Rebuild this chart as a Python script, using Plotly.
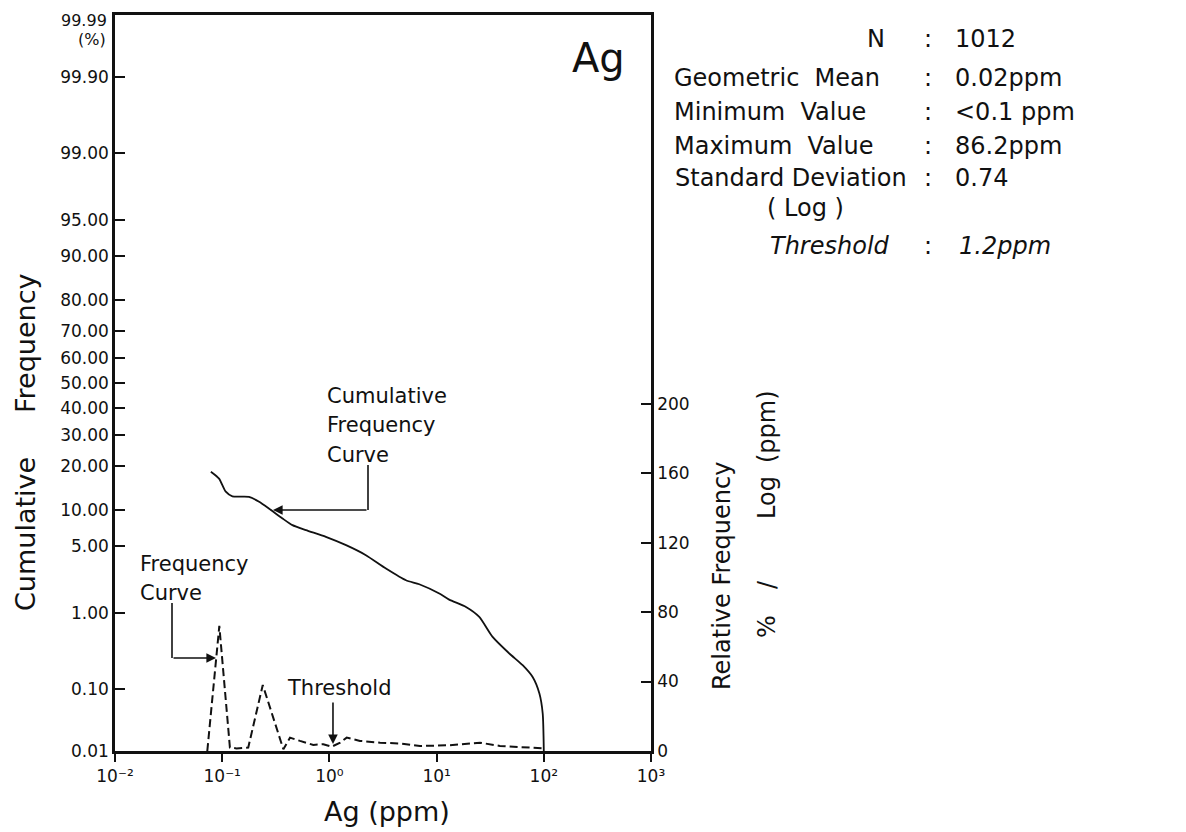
import math
from statistics import NormalDist
import plotly.graph_objects as go

# ---------------- data ----------------
cum_x = [0.0784, 0.0935, 0.108, 0.1245, 0.178, 0.221, 0.274, 0.365, 0.452, 0.604,
         0.927, 1.43, 2.19, 3.37, 5.18, 6.89, 10.6, 13.1, 18.8, 25.0, 33.3, 47.7,
         63.5, 78.7, 91.0, 97.7, 100.0]
cum_pct = [18.5, 16.7, 13.6, 12.6, 12.5, 11.5, 10.2, 8.55, 7.54, 6.85,
           6.0, 5.06, 4.09, 3.04, 2.31, 2.10, 1.67, 1.43, 1.18, 0.904, 0.514, 0.313,
           0.217, 0.148, 0.0848, 0.0417, 0.01]

freq_x = [0.0726, 0.094, 0.118, 0.136, 0.175, 0.239, 0.372, 0.429, 0.532, 0.708,
          0.877, 1.05, 1.26, 1.45, 1.93, 2.97, 4.56, 7.0, 13.3, 25.4, 39.0, 69.2, 100.0]
freq_val = [0, 72, 2, 1.5, 2, 38, 1, 7.7, 5.8, 3.5,
            3.9, 2.5, 4.8, 7.7, 5.8, 4.8, 4.3, 2.9, 3.3, 4.8, 2.9, 1.9, 1.5]

prob_ticks = [0.01, 0.10, 1.00, 5.00, 10.00, 20.00, 30.00, 40.00, 50.00, 60.00,
              70.00, 80.00, 90.00, 95.00, 99.00, 99.90, 99.99]
prob_labels = ["0.01", "0.10", "1.00", "5.00", "10.00", "20.00", "30.00", "40.00", "50.00",
               "60.00", "70.00", "80.00", "90.00", "95.00", "99.00", "99.90", "99.99"]
x_ticks = [0.01, 0.1, 1, 10, 100, 1000]
x_labels = ["10\u207b\u00b2", "10\u207b\u00b9", "10\u2070", "10\u00b9", "10\u00b2", "10\u00b3"]
rel_ticks = [0, 40, 80, 120, 160, 200]
threshold_text = "1.2ppm"
threshold_arrow_x = 1.08   # where the arrow is drawn in the picture
threshold_arrow_y = 4

stat_labels = ["N", "Geometric  Mean", "Minimum  Value", "Maximum  Value", "Standard Deviation"]
stat_values = ["1012", "0.02ppm", "<0.1 ppm", "86.2ppm", "0.74"]

# ---------------- helpers ----------------
nd = NormalDist()
def probit(p):
    return nd.inv_cdf(p / 100.0)

OFF = 8                      # page body margin of the html page
W, H = 1186 - OFF - 2, 832 - OFF - 2
L = 115 - OFF
T = 15 - OFF
R = W - (651 - OFF)
B = H - (751 - OFF)
PW, PH = W - L - R, H - T - B
def px(x):
    return (x - OFF - L) / PW
def py(y):
    return (H - B - (y - OFF)) / PH

FONT = "DejaVu Sans, Verdana, sans-serif"
BLACK = "#111111"
NB = "\u00a0"

fig = go.Figure()
fig.add_trace(go.Scatter(
    x=cum_x, y=[probit(p) for p in cum_pct], mode="lines",
    line=dict(color=BLACK, width=1.8, shape="spline", smoothing=0.6),
    showlegend=False, hoverinfo="skip"))
fig.add_trace(go.Scatter(
    x=freq_x, y=freq_val, mode="lines", yaxis="y2",
    line=dict(color=BLACK, width=2, dash="8px,4px"),
    showlegend=False, hoverinfo="skip"))

zmin, zmax = probit(0.01), probit(99.99)
tf = dict(size=17, family=FONT, color=BLACK)

# the top label (99.99) would be clipped at the page edge; it is drawn as an annotation
shown_labels = prob_labels[:-1] + [""]

fig.update_layout(
    width=W, height=H,
    margin=dict(l=L, r=R, t=T, b=B, autoexpand=False),
    paper_bgcolor="white", plot_bgcolor="white",
    font=dict(family=FONT, color=BLACK, size=17),
    xaxis=dict(type="log", range=[-2, 3], tickvals=x_ticks, ticktext=x_labels,
               ticks="outside", ticklen=8, tickwidth=2, tickcolor=BLACK,
               showline=True, linewidth=2.5, linecolor=BLACK, mirror=True,
               showgrid=False, zeroline=False, ticklabeloverflow="allow", tickfont=tf),
    yaxis=dict(range=[zmin, zmax], tickvals=[probit(p) for p in prob_ticks],
               ticktext=shown_labels, ticks="inside", ticklen=10, tickwidth=1.5,
               tickcolor=BLACK, showline=True, linewidth=2.5, linecolor=BLACK,
               showgrid=False, zeroline=False, ticklabeloverflow="allow", tickfont=tf),
    yaxis2=dict(overlaying="y", side="right", range=[0, 423.7], tickvals=rel_ticks,
                ticks="inside", ticklen=10, tickwidth=1.5, tickcolor=BLACK,
                showline=True, linewidth=2.5, linecolor=BLACK,
                showgrid=False, zeroline=False, ticklabeloverflow="allow", tickfont=tf),
)

ann = []
def text(x, y, s, size=17, xanchor="left", angle=0, yanchor="middle"):
    ann.append(dict(x=px(x), y=py(y), xref="paper", yref="paper", text=s,
                    showarrow=False, xanchor=xanchor, yanchor=yanchor,
                    textangle=angle, font=dict(size=size, family=FONT, color=BLACK)))

# top tick label, kept inside the page
ann.append(dict(x=px(109), y=1.0, xref="paper", yref="paper", yshift=T - 1,
                text=prob_labels[-1], showarrow=False, xanchor="right", yanchor="top",
                font=dict(size=16, family=FONT, color=BLACK)))

# axis titles
text(25, 534, "Cumulative", size=27, xanchor="center", angle=-90)
text(25, 343, "Frequency", size=27, xanchor="center", angle=-90)
text(387, 811, "Ag (ppm)", size=27, xanchor="center")
text(722, 576, "Relative Frequency", size=24, xanchor="center", angle=-90)
text(767, 627, "%", size=24, xanchor="center", angle=-90)
text(767, 585, "/", size=24, xanchor="center", angle=-90)
text(767, 498, "Log", size=24, xanchor="center", angle=-90)
text(767, 427, "(ppm)", size=24, xanchor="center", angle=-90)
text(108, 39, "(%)", size=16, xanchor="right")
text(598, 58, "Ag", size=40, xanchor="center")

# stats block
label_pos = [(887, 39, "right"), (672, 78, "left"), (672, 112, "left"),
             (672, 146, "left"), (673, 178, "left")]
for (lx, ly, anc), lab, val in zip(label_pos, stat_labels, stat_values):
    text(lx, ly, lab.replace("  ", NB * 2), size=24, xanchor=anc)
    text(928, ly, ":", size=24, xanchor="center")
    text(953, ly, val, size=24, xanchor="left")
text(805, 208, f"({NB}Log{NB})", size=24, xanchor="center")
text(892, 246, "<i>Threshold</i>", size=24, xanchor="right")
text(928, 246, ":", size=24, xanchor="center")
text(957, 246, f"<i>{threshold_text}</i>", size=24, xanchor="left")

# curve labels
text(325, 396, "Cumulative", size=21)
text(325, 425, "Frequency", size=21)
text(325, 455, "Curve", size=21)
text(138, 564, "Frequency", size=21)
text(138, 593, "Curve", size=21)
text(285, 688, "Threshold", size=21)

# arrows
arrow_style = dict(showarrow=True, arrowhead=2, arrowsize=1.2, arrowwidth=1.6,
                   arrowcolor=BLACK, font=dict(size=12, family=FONT, color=BLACK))
ann.append(dict(x=px(273), y=py(510), xref="paper", yref="paper", ax=95, ay=0,
                text="", **arrow_style))
ann.append(dict(x=px(216), y=py(658), xref="paper", yref="paper", ax=-44, ay=0,
                text="", **arrow_style))
ann.append(dict(x=math.log10(threshold_arrow_x), y=threshold_arrow_y, xref="x", yref="y2",
                ax=0, ay=-43, text="", **arrow_style))
fig.update_layout(annotations=ann)

shapes = [
    dict(type="line", xref="paper", yref="paper", x0=px(368), x1=px(368),
         y0=py(465), y1=py(510), line=dict(color=BLACK, width=1.6)),
    dict(type="line", xref="paper", yref="paper", x0=px(172), x1=px(172),
         y0=py(603), y1=py(658), line=dict(color=BLACK, width=1.6)),
]
fig.update_layout(shapes=shapes)

fig.write_html("out.html")
